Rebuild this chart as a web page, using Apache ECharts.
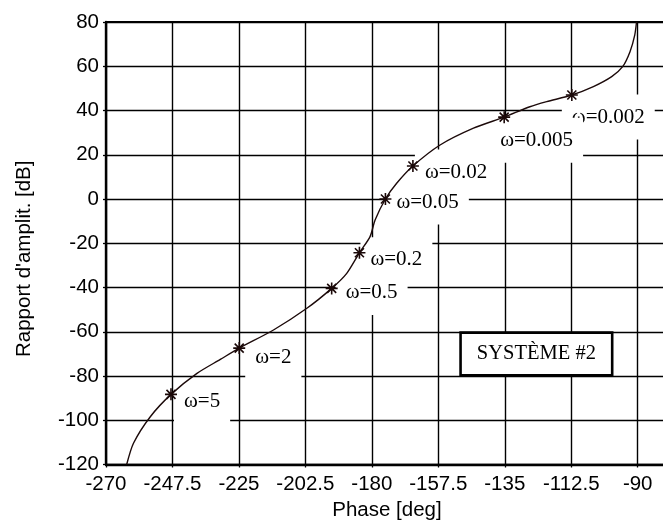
<!DOCTYPE html>
<html>
<head>
<meta charset="utf-8">
<script src="https://cdn.jsdelivr.net/npm/echarts@6/dist/echarts.min.js"></script>
<style>
html,body{margin:0;padding:0;background:#fff;}
#chart{width:663px;height:524px;}
</style>
</head>
<body>
<div id="chart"></div>
<script>
// Nichols curve (phase in degrees, gain in dB), from low to high frequency
const curvePhase = [-90.4, -91.0, -92.6, -95.1, -98.8, -105.0, -112.3, -120.8, -126.5, -135.2, -145.6, -156.9, -166.1, -171.6, -175.4, -178.9, -180.6, -184.2, -188.5, -193.6, -202.0, -213.3, -224.9, -231.3, -239.2, -248.0, -255.0, -260.7, -263.0];
const curveGain  = [80, 74.1, 66.6, 59.8, 55.3, 50.8, 47.0, 44.0, 41.7, 37.0, 32.0, 24.4, 14.9, 7.1, 0.0, -9.5, -17.0, -24.3, -33.6, -40.4, -49.4, -59.2, -67.4, -72.5, -78.8, -88.3, -98.4, -110.4, -120];

// Marked frequencies
const markerLabels = ['ω=0.002', 'ω=0.005', 'ω=0.02', 'ω=0.05', 'ω=0.2', 'ω=0.5', 'ω=2', 'ω=5'];
const markerPhase  = [-112.3, -135.2, -166.1, -175.4, -184.2, -193.6, -224.9, -248.0];
const markerGain   = [47.0, 37.0, 14.9, 0.0, -24.3, -40.4, -67.4, -88.3];

// Axis ticks
const xMin = -270, xMax = -75, xStep = 22.5, xLastLabel = -90;
const yMin = -120, yMax = 80, yStep = 20;

const xTitle = 'Phase [deg]';
const yTitle = "Rapport d'amplit. [dB]";
const noteText = 'SYSTÈME #2';
const notePhase = -124.3, noteGain = -70;

// label placement (layout only): [dx to text left, dy to text centre]
const labelOffsets = [[0, 22], [-4, 23], [12, 6], [11, 3], [11, 7], [14, 4], [16, 9], [13, 7]];

const sansFont = 'Liberation Sans, Arial, sans-serif';
const serifFont = 'Liberation Serif, Times New Roman, serif';
const pad = 10;
const symSize = 12;

const chart = echarts.init(document.getElementById('chart'), null, {renderer: 'canvas'});

const curveData = curvePhase.map((p, i) => [p, curveGain[i]]);
const labelData = markerPhase.map((p, i) => ({
  value: [p, markerGain[i]],
  label: {
    show: true,
    formatter: markerLabels[i],
    position: [symSize / 2 + labelOffsets[i][0] - pad, symSize / 2 + labelOffsets[i][1]],
    align: 'left',
    verticalAlign: 'middle'
  }
}));
const markerData = markerPhase.map((p, i) => [p, markerGain[i]]);

const asterisk = 'path://M0,-6L0,6M-6,0L6,0M-4.5,-4.5L4.5,4.5M-4.5,4.5L4.5,-4.5';

chart.setOption({
  animation: false,
  backgroundColor: '#fff',
  grid: {left: 106, top: 22, width: 576, height: 442.5, containLabel: false, outerBoundsMode: 'none'},
  xAxis: [{
    type: 'value',
    min: xMin, max: xMax, interval: xStep,
    name: xTitle,
    nameLocation: 'middle',
    nameGap: 35,
    nameTextStyle: {fontFamily: sansFont, fontSize: 20.5, color: '#000', padding: [0, 14, 0, 0]},
    axisLine: {show: true, onZero: false, lineStyle: {color: '#000', width: 2.4}},
    axisTick: {show: true, length: 3, lineStyle: {color: '#000', width: 1.3}},
    axisLabel: {
      fontFamily: sansFont, fontSize: 20.5, color: '#000', margin: 9,
      formatter: v => (v <= xLastLabel + 1e-6 ? String(v) : '')
    },
    splitLine: {show: true, lineStyle: {color: '#000', width: 1.4}}
  }, {
    type: 'value', position: 'top',
    min: xMin, max: xMax, interval: xStep,
    axisLine: {show: true, onZero: false, lineStyle: {color: '#000', width: 2}},
    axisTick: {show: false}, axisLabel: {show: false}, splitLine: {show: false}
  }],
  yAxis: {
    type: 'value',
    min: yMin, max: yMax, interval: yStep,
    name: yTitle,
    nameLocation: 'middle',
    nameGap: 71,
    nameTextStyle: {fontFamily: sansFont, fontSize: 20.5, color: '#000', padding: [0, 31, 0, 0]},
    axisLine: {show: true, onZero: false, lineStyle: {color: '#000', width: 2.4}},
    axisTick: {show: true, length: 3, lineStyle: {color: '#000', width: 1.3}},
    axisLabel: {fontFamily: sansFont, fontSize: 20.5, color: '#000', margin: 7},
    splitLine: {show: true, lineStyle: {color: '#000', width: 1.4}}
  },
  series: [
    {
      type: 'scatter', z: 2, silent: true,
      symbol: 'rect', symbolSize: symSize,
      itemStyle: {color: 'rgba(0,0,0,0)', opacity: 1},
      data: labelData,
      label: {
        fontFamily: serifFont, fontSize: 21, color: '#000',
        backgroundColor: '#fff', padding: [12, pad, 12, pad]
      }
    },
    {
      type: 'scatter', z: 2, silent: true,
      symbol: 'rect', symbolSize: 2,
      itemStyle: {color: 'rgba(0,0,0,0)', opacity: 1},
      data: [[notePhase, noteGain]],
      label: {
        show: true, position: 'inside', formatter: noteText,
        fontFamily: serifFont, fontSize: 20.5, color: '#000',
        backgroundColor: '#fff', borderColor: '#000', borderWidth: 2.6,
        padding: [10, 15, 9, 15],
        align: 'center', verticalAlign: 'middle'
      }
    },
    {
      type: 'line', z: 3, silent: true,
      data: curveData,
      smooth: 0.25,
      showSymbol: false,
      lineStyle: {color: '#1c0a0a', width: 1.4}
    },
    {
      type: 'scatter', z: 4, silent: true,
      data: markerData,
      symbol: asterisk, symbolSize: 12,
      itemStyle: {color: '#000', borderColor: '#1a0808', borderWidth: 1.6, opacity: 1}
    }
  ]
});
</script>
</body>
</html>
